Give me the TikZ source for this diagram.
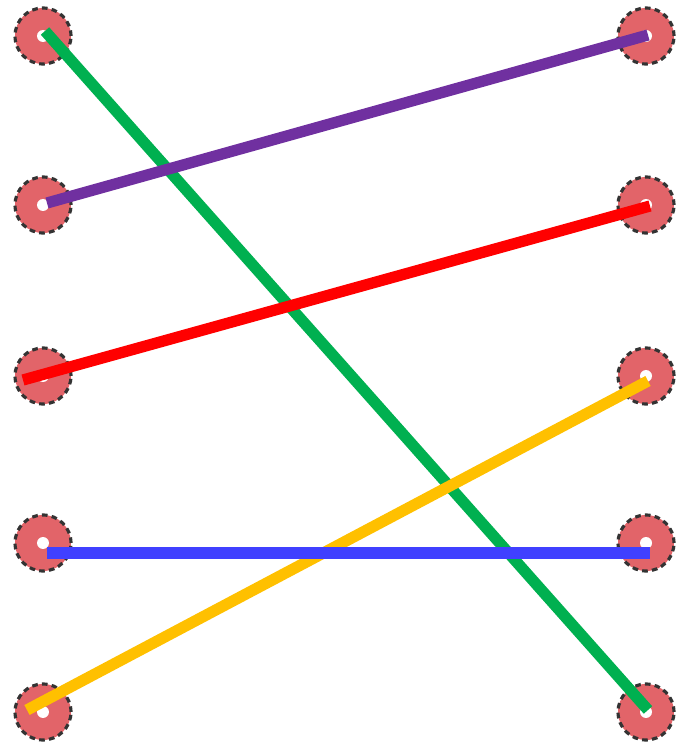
\documentclass[tikz,border=0pt]{standalone}
\usepackage{tikz}

\definecolor{lgreen}{RGB}{0,176,80}
\definecolor{lpurple}{RGB}{112,48,160}
\definecolor{lred}{RGB}{255,0,0}
\definecolor{lyellow}{RGB}{255,192,0}
\definecolor{lblue}{RGB}{64,64,255}
\definecolor{pinfill}{RGB}{226,100,105}

\begin{document}
\begin{tikzpicture}[
        pin/.style={circle, draw=black!80, dash pattern=on 1.6pt off 1.2pt, line width=0.9pt, fill=pinfill, minimum size=0.56cm, inner sep=0pt,
            path picture={\fill[white] (path picture bounding box.center) circle (0.06);}},
        wire/.style={line width=3.2pt}
    ]
        \useasboundingbox (0,0) rectangle (6.76,7.47);

        \node[pin] (l1) at (0.43, 7.11) {};
        \node[pin] (l2) at (0.43, 5.42) {};
        \node[pin] (l3) at (0.43, 3.71) {};
        \node[pin] (l4) at (0.43, 2.04) {};
        \node[pin] (l5) at (0.43, 0.35) {};
        \node[pin] (r1) at (6.46, 7.11) {};
        \node[pin] (r2) at (6.46, 5.42) {};
        \node[pin] (r3) at (6.46, 3.71) {};
        \node[pin] (r4) at (6.46, 2.04) {};
        \node[pin] (r5) at (6.46, 0.35) {};

        \draw[wire, lgreen] ([shift={(0.02,0.05)}]l1.center) -- ([shift={(0.02,0.02)}]r5.center);
        \draw[wire, lpurple] ([shift={(0.04,0.02)}]l2.center) -- ([shift={(0.02,0.01)}]r1.center);
        \draw[wire, lred] ([shift={(-0.2,-0.04)}]l3.center) -- ([shift={(0.04,-0.01)}]r2.center);
        \draw[wire, lyellow] ([shift={(-0.16,0.02)}]l5.center) -- ([shift={(0.02,-0.05)}]r3.center);
        \draw[wire, lblue] ([shift={(0.04,-0.1)}]l4.center) -- ([shift={(0.04,-0.1)}]r4.center);
    \end{tikzpicture}
\end{document}
